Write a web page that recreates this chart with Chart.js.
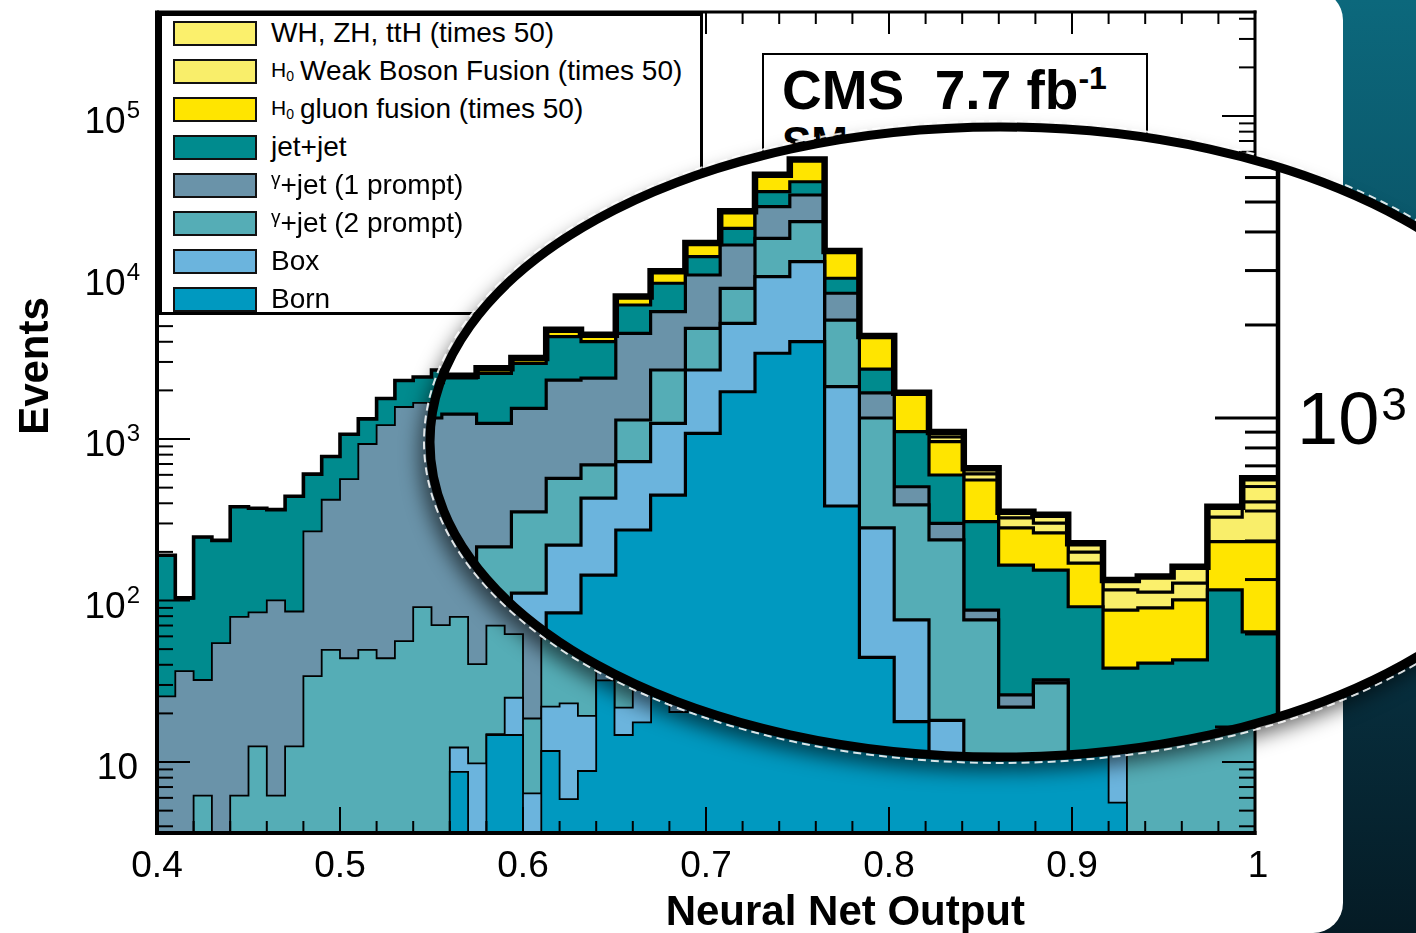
<!DOCTYPE html>
<html>
<head>
<meta charset="utf-8">
<title>Neural Net Output – CMS 7.7 fb-1</title>
<script src="https://cdn.jsdelivr.net/npm/chart.js@4.4.1/dist/chart.umd.min.js"></script>
<style>
html,body{margin:0;padding:0;}
body{width:1416px;height:933px;position:relative;overflow:hidden;
  background:linear-gradient(180deg,#0c687c 0%,#0a5366 30%,#083647 62%,#051b25 100%);
  font-family:"Liberation Sans",Arial,Helvetica,sans-serif;}
#panel{position:absolute;left:-60px;top:-10px;width:1403px;height:943px;background:#fff;border-radius:30px;}
canvas{position:absolute;left:0;top:0;}
#legend{position:absolute;left:159px;top:13px;width:544px;height:302px;box-sizing:border-box;border:3px solid #000;background:#fff;}
.row{position:absolute;left:11px;height:38px;display:flex;align-items:center;font-size:28px;color:#000;white-space:nowrap;}
.sw{width:84px;height:25px;box-sizing:border-box;border:2px solid #111;margin-right:14px;flex:none;}
.h0{font-size:21px;margin-right:6px;}
.h0 sub{font-size:14px;vertical-align:-4px;}
.gam{font-size:19px;position:relative;top:-6px;}
#cms{position:absolute;left:762px;top:53px;width:386px;height:200px;box-sizing:border-box;border:2.5px solid #000;background:#fff;}
#cmsT{position:absolute;left:18px;top:8px;font-weight:bold;font-size:55px;line-height:55px;white-space:nowrap;}
#cmsT span{font-size:32px;position:relative;top:-20px;}
#cmsSM{position:absolute;left:18px;top:66px;font-weight:bold;font-size:44px;line-height:44px;}
svg{position:absolute;left:0;top:0;}
#lensWrap{position:absolute;left:0;top:0;width:1416px;height:933px;background:#fff;
  clip-path:ellipse(570px 315px at 1000px 442px);}
</style>
</head>
<body>
<div id="panel"></div>
<canvas id="main" width="1416" height="933"></canvas>

<div id="legend">
  <div class="row" style="top:-2px"><div class="sw" style="background:#fbf06c"></div>WH, ZH, ttH (times 50)</div>
  <div class="row" style="top:36px"><div class="sw" style="background:#f9ee6a"></div><span class="h0">H<sub>0</sub></span>Weak Boson Fusion (times 50)</div>
  <div class="row" style="top:74px"><div class="sw" style="background:#ffe500"></div><span class="h0">H<sub>0</sub></span>gluon fusion (times 50)</div>
  <div class="row" style="top:112px"><div class="sw" style="background:#008b8e"></div>jet+jet</div>
  <div class="row" style="top:150px"><div class="sw" style="background:#6a93a9"></div><span class="gam">γ</span>+jet (1 prompt)</div>
  <div class="row" style="top:188px"><div class="sw" style="background:#55adb6"></div><span class="gam">γ</span>+jet (2 prompt)</div>
  <div class="row" style="top:226px"><div class="sw" style="background:#6bb4dd"></div>Box</div>
  <div class="row" style="top:264px"><div class="sw" style="background:#0099c0"></div>Born</div>
</div>

<div id="cms">
  <div id="cmsT">CMS&nbsp;&nbsp;7.7 fb<span>-1</span></div>
  <div id="cmsSM">SM</div>
</div>

<svg width="1416" height="933">
  <defs><filter id="blur" x="-20%" y="-20%" width="140%" height="140%"><feGaussianBlur stdDeviation="10"/></filter></defs>
  <ellipse cx="994" cy="453" rx="574" ry="318" fill="rgba(0,0,0,0.6)" filter="url(#blur)"/>
</svg>

<div id="lensWrap"><canvas id="lens" width="1416" height="933"></canvas></div>

<svg width="1416" height="933">
  <ellipse cx="1000" cy="442" rx="576" ry="321" fill="none" stroke="rgba(255,255,255,0.85)" stroke-width="2" stroke-dasharray="8 5"/>
  <ellipse cx="1000" cy="442" rx="570" ry="315" fill="none" stroke="#000" stroke-width="9"/>
</svg>

<script>
// ===================== DATA =====================
// Main histogram: 60 bins of width 0.01 from 0.40 to 1.00 (events per bin, per component)
const mainStart = 0.40;
const binWidth = 0.01;
const mainBorn = [0.3,0.3,0.3,0.3,0.3,0.3,0.3,0.3,0.3,0.3, 0.3,0.3,0.3,0.3,0.3,0.3,8.7,0.5,14.7,14.7,
  0.5,11.7,5.9,8.8,32,14.7,17.6,40,20.4,45, 70,110,160,230,320,420,500,420,300,200,
  130,90,60,45,35,28,24,20,18,16, 15,14,5.6,0.5,0.5,0.5,0.5,0.5,0.5,0.5];
const mainBox = [0.2,0.2,0.2,0.2,0.2,0.2,0.2,0.2,0.2,0.2, 0.2,0.2,0.2,0.2,0.2,0.2,3.6,9.3,0.2,10.3,
  5.9,10.3,17.2,10.5,8,7,10.4,15,8,20, 35,60,90,130,180,230,280,240,170,110,
  70,45,30,20,14,10,8,6,5,4, 4,3,20,0.3,0.3,0.3,0.3,0.3,0.3,0.3];
const mainGJ2 = [2.0,2.0,5.7,2.0,5.7,12,5.7,12,33.5,49, 43.4,49,43.4,55.5,90.5,70,67,30.6,55,37,
  12.2,36.5,60,60,80,100,120,150,180,220, 260,320,400,480,560,650,700,600,450,300,
  200,130,90,60,45,35,28,24,22,20, 20,20,20,30,35,35,40,40,45,50];
const mainGJ1 = [23,34,26,52,73,72,94,73,234,371, 521,882,1176,1522,1584,1700,2000,2300,2700,3100,
  3500,4000,4500,5000,5500,6000,6500,7000,7500,8000, 8500,9000,9500,9500,9000,8000,6500,3000,1500,800,
  400,200,100,60,40,30,20,15,12,10, 10,10,10,10,10,10,10,10,10,10];
const mainJJ = [164,66,214,180,300,287,264,355,337,357, 502,399,560,722,743,900,1000,1100,1200,1300,
  1400,1500,1600,1700,1800,1900,2000,2100,2200,2300, 2400,2500,2600,2600,2500,2300,2000,1200,700,400,
  250,180,140,120,110,100,95,90,90,90, 90,90,90,90,90,95,100,110,120,130];
const mainGGH = [1,1,1,1,1,1,1,1,1,2, 2,2,2,3,3,3,4,4,5,5, 6,7,8,9,10,12,14,16,18,20,
  22,25,28,30,32,35,35,30,25,22, 20,18,17,16,15,15,15,15,16,17, 18,20,22,25,28,32,36,40,45,50];
const mainVBF = [0.2,0.2,0.2,0.2,0.2,0.2,0.2,0.2,0.2,0.2, 0.3,0.3,0.3,0.3,0.4,0.4,0.5,0.5,0.6,0.6,
  0.7,0.8,0.9,1,1.1,1.2,1.4,1.6,1.8,2, 2.2,2.5,2.8,3,3.2,3.5,3.5,3.2,3,3,
  3,3,3,3.2,3.4,3.6,3.8,4,4.5,5, 5.5,6,7,8,9,10,12,14,16,18];
const mainVH = [0.1,0.1,0.1,0.1,0.1,0.1,0.1,0.1,0.1,0.1, 0.2,0.2,0.2,0.2,0.2,0.3,0.3,0.3,0.4,0.4,
  0.5,0.5,0.6,0.7,0.8,0.9,1,1.1,1.2,1.3, 1.5,1.7,1.9,2,2.2,2.4,2.4,2.2,2,2,
  2,2,2,2.2,2.4,2.6,2.8,3,3.3,3.6, 4,4.5,5,5.5,6,7,8,9,10,11];

// Magnified view (lens): 25 bins of width 0.01 from 0.75 to 1.00
const lensStart = 0.75;
const lensBorn = [100,105,132,171,234,310,434,563,892,1216,1620,1766,519,168,104,78,54,43,50,40,37,37,39,40,40];
const lensBox  = [70,73,74,100,154,240,288,398,538,809,1246,1439,744,273,118,27,16,15,17,14,13,13,13,14,14];
const lensGJ2  = [140,144,177,226,250,155,263,469,521,604,949,1113,812,559,301,298,152,58,72,16,13,13,13,13,13];
const lensGJ1  = [690,708,578,578,689,640,894,778,951,1000,1014,950,458,205,76,53,17,11,3,8,7,7,8,8,8];
const lensJJ   = [300,317,434,428,506,421,442,521,425,482,571,548,300,235,304,198,223,207,180,167,85,91,92,203,128];
const lensGGH  = [15,20,53,58,94,90,148,246,349,541,714,1023,619,389,293,184,168,107,103,94,84,82,93,120,195];
const lensVBF  = [1,1,1,1,2,2,3,4,5,6,8,10,8,6,5,30,29,34,32,29,39,30,34,80,137];
const lensVH   = [1,1,1,1,2,2,3,4,5,6,8,10,8,6,5,33,29,22,29,25,21,34,38,38,103];

// Components from bottom of the stack to top
const componentLabels = ['Born','Box','γ+jet (2 prompt)','γ+jet (1 prompt)','jet+jet',
  'H0 gluon fusion (times 50)','H0 Weak Boson Fusion (times 50)','WH, ZH, ttH (times 50)'];
const componentColors = ['#0099c0','#6bb4dd','#55adb6','#6a93a9','#008b8e','#ffe500','#f9ee6a','#fbf06c'];

// Axis ticks / labels
const xTickValues = [0.4,0.5,0.6,0.7,0.8,0.9,1.0];
const xTickLabels = ['0.4','0.5','0.6','0.7','0.8','0.9','1'];
const yDecades = [1,2,3,4,5];
const lensDecades = [2,3,4];

// ===================== HELPERS =====================
function cumulate(list){
  const out=[]; let acc=list[0].map(()=>0);
  for(const arr of list){ acc=acc.map((v,i)=>v+arr[i]); out.push(acc.slice()); }
  return out;
}
function histPoints(start, width, vals){
  const pts=[];
  vals.forEach((v,i)=>{ const x0=+(start+i*width).toFixed(4); const x1=+(start+(i+1)*width).toFixed(4);
    pts.push({x:x0,y:v},{x:x1,y:v}); });
  return pts;
}
function buildDatasets(start, comps, lw, topLw){
  const cum=cumulate(comps);
  const ds=cum.map((c,i)=>({
    label:componentLabels[i], data:histPoints(start,binWidth,c),
    fill:'start', backgroundColor:componentColors[i], borderColor:'#000', borderWidth:lw,
    pointRadius:0, clip:0, order:i, tension:0
  }));
  ds.push({label:'total', data:histPoints(start,binWidth,cum[cum.length-1]), fill:false,
    borderColor:'#000', borderWidth:topLw, pointRadius:0, clip:0, order:-1, tension:0});
  return ds;
}
function seg(ctx,x1,y1,x2,y2){ctx.beginPath();ctx.moveTo(x1,y1);ctx.lineTo(x2,y2);ctx.stroke();}
const FONT='"Liberation Sans", Arial, Helvetica, sans-serif';

// ===================== MAIN CHART =====================
const mainFrame={
  id:'mainFrame',
  afterDraw(chart){
    const {ctx,chartArea:a,scales:{x,y}}=chart;
    ctx.save(); ctx.strokeStyle='#000'; ctx.fillStyle='#000'; ctx.lineCap='butt';
    ctx.lineWidth=2;
    for(let i=0;i<=30;i++){
      const v=0.4+i*0.02, px=x.getPixelForValue(v), major=(i%5===0);
      seg(ctx,px,a.bottom,px,a.bottom-(major?26:12));
      seg(ctx,px,a.top,px,a.top+(major?22:12));
    }
    for(let d=0; d<=5; d++){
      for(let m=1;m<=9;m++){
        const v=m*Math.pow(10,d);
        if(v<y.min||v>y.max) continue;
        const py=y.getPixelForValue(v), len=(m===1?33:16);
        seg(ctx,a.left,py,a.left+len,py);
        seg(ctx,a.right,py,a.right-len,py);
      }
    }
    ctx.lineWidth=4;
    seg(ctx,a.left,a.top-1.5,a.left,a.bottom+2);
    seg(ctx,a.left-2,a.bottom,a.right+1.5,a.bottom);
    ctx.lineWidth=3;
    seg(ctx,a.left,a.top,a.right+1.5,a.top);
    seg(ctx,a.right,a.top-1.5,a.right,a.bottom+2);
    ctx.font='37px '+FONT; ctx.textAlign='center'; ctx.textBaseline='alphabetic';
    xTickValues.forEach((v,i)=>ctx.fillText(xTickLabels[i], x.getPixelForValue(v)+(v===1?3:0), a.bottom+44));
    ctx.textAlign='right';
    yDecades.forEach(d=>{
      const py=y.getPixelForValue(Math.pow(10,d));
      if(d===1){ ctx.font='37px '+FONT; ctx.fillText('10', a.left-19, py+17); }
      else{
        ctx.font='24px '+FONT; const e=String(d); ctx.fillText(e, a.left-17, py+2);
        const w=ctx.measureText(e).width;
        ctx.font='37px '+FONT; ctx.fillText('10', a.left-17-w-1, py+17);
      }
    });
    ctx.font='bold 42px '+FONT; ctx.textAlign='right';
    ctx.fillText('Neural Net Output', a.right-230, 925);
    ctx.save(); ctx.translate(48,366); ctx.rotate(-Math.PI/2); ctx.textAlign='center';
    ctx.fillText('Events',0,0); ctx.restore();
    ctx.restore();
  }
};

new Chart(document.getElementById('main'),{
  type:'line',
  data:{datasets:buildDatasets(mainStart,[mainBorn,mainBox,mainGJ2,mainGJ1,mainJJ,mainGGH,mainVBF,mainVH],1.8,3.6)},
  options:{
    responsive:false, animation:false, devicePixelRatio:1, events:[],
    layout:{padding:{left:157,right:161,top:12,bottom:100}},
    scales:{
      x:{type:'linear',min:0.4,max:1.0,display:false},
      y:{type:'logarithmic',min:3.635,max:440500,display:false}
    },
    plugins:{legend:{display:false},tooltip:{enabled:false}}
  },
  plugins:[mainFrame]
});

// ===================== LENS CHART =====================
const lensFrame={
  id:'lensFrame',
  afterDraw(chart){
    const {ctx,chartArea:a,scales:{y}}=chart;
    ctx.save(); ctx.strokeStyle='#000'; ctx.fillStyle='#000';
    ctx.lineWidth=3;
    for(let d=1; d<=4; d++){
      for(let m=1;m<=9;m++){
        const v=m*Math.pow(10,d);
        if(v<y.min||v>y.max) continue;
        const py=y.getPixelForValue(v), len=(m===1?62:32);
        seg(ctx,a.right-len,py,a.right,py);
      }
    }
    ctx.lineWidth=4.5;
    seg(ctx,a.right+1,a.top,a.right+1,a.bottom);
    ctx.textAlign='left'; ctx.textBaseline='alphabetic';
    lensDecades.forEach(d=>{
      const py=y.getPixelForValue(Math.pow(10,d));
      ctx.font='74px '+FONT; ctx.fillText('10', a.right+20, py+26);
      const w=ctx.measureText('10').width;
      ctx.font='46px '+FONT; ctx.fillText(String(d), a.right+20+w+2, py+2);
    });
    ctx.restore();
  }
};

new Chart(document.getElementById('lens'),{
  type:'line',
  data:{datasets:buildDatasets(lensStart,[lensBorn,lensBox,lensGJ2,lensGJ1,lensJJ,lensGGH,lensVBF,lensVH],3.2,6.5)},
  options:{
    responsive:false, animation:false, devicePixelRatio:1, events:[],
    layout:{padding:{left:407,right:139,top:109,bottom:113}},
    scales:{
      x:{type:'linear',min:0.75,max:1.0,display:false},
      y:{type:'logarithmic',min:50,max:10000,display:false}
    },
    plugins:{legend:{display:false},tooltip:{enabled:false}}
  },
  plugins:[lensFrame]
});
</script>
</body>
</html>
